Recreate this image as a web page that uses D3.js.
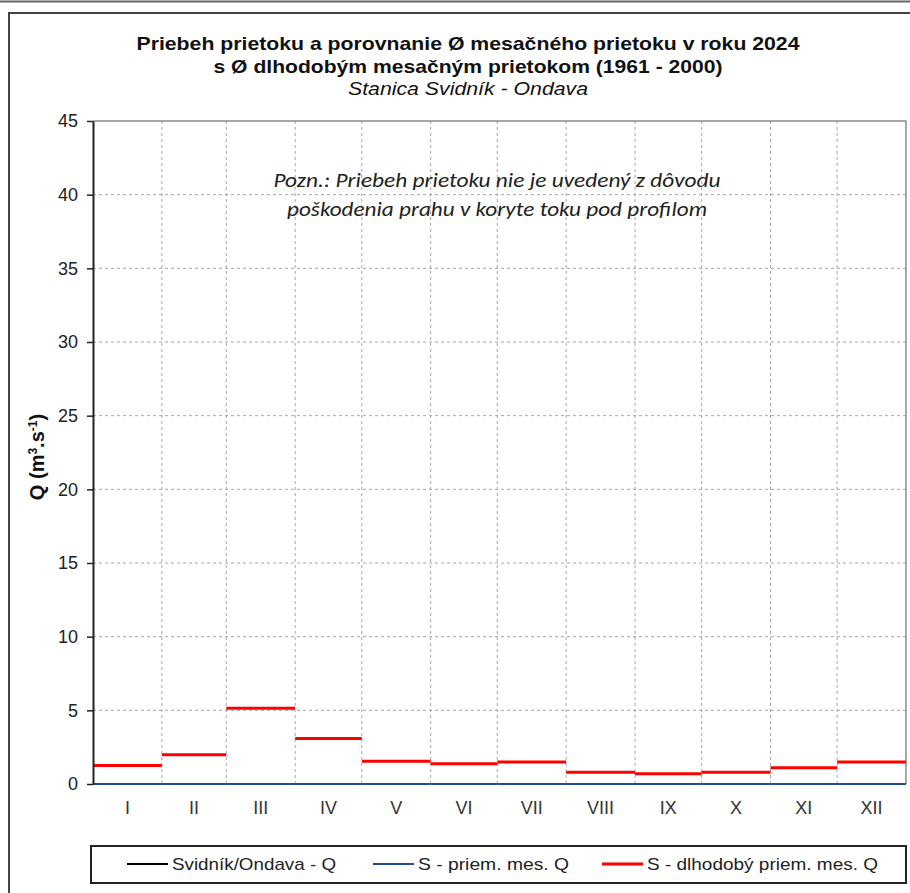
<!DOCTYPE html>
<html>
<head>
<meta charset="utf-8">
<script src="https://cdn.jsdelivr.net/npm/d3@7"></script>
<style>
  body { margin: 0; background: #fff; }
  text { font-family: "Liberation Sans", Arial, sans-serif; }
</style>
</head>
<body>
<div id="chart"></div>
<script>
// data
var months = ["I", "II", "III", "IV", "V", "VI", "VII", "VIII", "IX", "X", "XI", "XII"]
var longTermQ = [1.25, 1.98, 5.14, 3.09, 1.55, 1.37, 1.5, 0.8, 0.69, 0.8, 1.1, 1.5]
var monthlyQ2024 = [0, 0, 0, 0, 0, 0, 0, 0, 0, 0, 0, 0]
var yTicks = [0, 5, 10, 15, 20, 25, 30, 35, 40, 45]
var legendItems = [
    {label: "Svidník/Ondava - Q", color: "#000000", w: 164},
    {label: "S - priem. mes. Q", color: "#1f4e8c", w: 151},
    {label: "S - dlhodobý priem. mes. Q", color: "#ff0000", w: 231}
]

var width = 910, height = 893
var margin = {top: 121, left: 93, right: 3, bottom: 109}

var svg = d3.select("#chart").append("svg")
    .attr("width", width)
    .attr("height", height)

// outer frame
svg.append("line").attr("x1", 0).attr("x2", width).attr("y1", 1.5).attr("y2", 1.5)
    .attr("stroke", "#666").attr("stroke-width", 2)
svg.append("rect").attr("x", 9).attr("y", 13).attr("width", width + 20).attr("height", height)
    .attr("fill", "none").attr("stroke", "#444").attr("stroke-width", 2)

var x = d3.scaleTime()
    .domain([new Date(2024, 0, 1), new Date(2025, 0, 1)])
    .range([margin.left, width - margin.right - 1])
var y = d3.scaleLinear().domain([0, 45]).range([height - margin.bottom, margin.top])

var monthStarts = months.map((m, i) => new Date(2024, i, 1))
var monthEnds = months.map((m, i) => new Date(2024, i + 1, 1))

// grid
svg.append("g").selectAll("line")
    .data(yTicks.filter(d => d > 0 && d < 45))
    .enter().append("line")
    .attr("x1", margin.left).attr("x2", x.range()[1])
    .attr("y1", d => y(d)).attr("y2", d => y(d))
    .attr("stroke", "#a6a6a6").attr("stroke-dasharray", "3,3")

svg.append("g").selectAll("line")
    .data(monthStarts.slice(1))
    .enter().append("line")
    .attr("x1", d => x(d)).attr("x2", d => x(d))
    .attr("y1", y(45)).attr("y2", y(0))
    .attr("stroke", "#a6a6a6").attr("stroke-dasharray", "3,3")

// plot frame top / right
svg.append("path")
    .attr("d", `M${margin.left},${y(45)}H${x.range()[1]}V${y(0)}`)
    .attr("fill", "none").attr("stroke", "#8c8c8c").attr("stroke-width", 1.5)

// long term monthly mean (red steps)
svg.append("g").selectAll("line")
    .data(longTermQ)
    .enter().append("line")
    .attr("x1", (d, i) => x(monthStarts[i])).attr("x2", (d, i) => x(monthEnds[i]))
    .attr("y1", d => y(d)).attr("y2", d => y(d))
    .attr("stroke", "#ff0000").attr("stroke-width", 3)

// 2024 monthly mean (blue)
svg.append("g").selectAll("line")
    .data(monthlyQ2024)
    .enter().append("line")
    .attr("x1", (d, i) => x(monthStarts[i])).attr("x2", (d, i) => x(monthEnds[i]))
    .attr("y1", d => y(d)).attr("y2", d => y(d))
    .attr("stroke", "#1f4e8c").attr("stroke-width", 2)

// y axis
var yAxis = svg.append("g")
    .attr("transform", `translate(${margin.left},0)`)
    .call(d3.axisLeft(y).tickValues(yTicks).tickSize(6).tickPadding(9).tickSizeOuter(0))
yAxis.select(".domain").attr("stroke", "#222").attr("stroke-width", 2)
yAxis.selectAll(".tick line").attr("stroke", "#222").attr("stroke-width", 1.5)
yAxis.selectAll(".tick text").attr("font-size", 18).attr("fill", "#222")
    .style("font-family", "Liberation Sans, Arial, sans-serif")

// x labels
svg.append("g").selectAll("text")
    .data(months)
    .enter().append("text")
    .attr("x", (d, i) => (x(monthStarts[i]) + x(monthEnds[i])) / 2)
    .attr("y", 814)
    .attr("text-anchor", "middle")
    .attr("font-size", 18)
    .attr("fill", "#333")
    .text(d => d)

// y label
svg.append("text")
    .attr("transform", "translate(44,457) rotate(-90)")
    .attr("text-anchor", "middle")
    .attr("font-size", 20)
    .attr("font-weight", "bold")
    .attr("fill", "#111")
    .html('Q (m<tspan baseline-shift="super" font-size="12">3</tspan>.s<tspan baseline-shift="super" font-size="12">-1</tspan>)')

// titles
var titleLines = [
    {t: "Priebeh prietoku a porovnanie Ø mesačného prietoku v roku 2024", y: 50, bold: true, w: 663},
    {t: "s Ø dlhodobým mesačným prietokom (1961 - 2000)", y: 73, bold: true, w: 509},
    {t: "Stanica Svidník - Ondava", y: 95, bold: false, w: 240}
]
svg.append("g").selectAll("text")
    .data(titleLines)
    .enter().append("text")
    .attr("x", 468)
    .attr("y", d => d.y)
    .attr("text-anchor", "middle")
    .attr("font-size", 19)
    .attr("font-weight", d => d.bold ? "bold" : "normal")
    .attr("font-style", d => d.bold ? "normal" : "italic")
    .attr("fill", "#111")
    .attr("textLength", d => d.w)
    .attr("lengthAdjust", "spacingAndGlyphs")
    .text(d => d.t)

// note
var noteLines = ["Pozn.: Priebeh prietoku nie je uvedený z dôvodu", "poškodenia prahu v koryte toku pod profilom"]
var noteWidths = [447, 420]
svg.append("g").selectAll("text")
    .data(noteLines)
    .enter().append("text")
    .attr("x", 497)
    .attr("y", (d, i) => 187 + i * 29)
    .attr("text-anchor", "middle")
    .attr("font-size", 20)
    .attr("font-style", "italic")
    .attr("fill", "#222")
    .attr("textLength", (d, i) => noteWidths[i])
    .attr("lengthAdjust", "spacingAndGlyphs")
    .style("font-family", "Carlito, 'Open Sans', sans-serif")
    .text(d => d)

// legend
svg.append("rect")
    .attr("x", 91).attr("y", 846).attr("width", 815).attr("height", 37)
    .attr("fill", "#fff").attr("stroke", "#222").attr("stroke-width", 2)
var legendX = [127, 373, 602]
var lg = svg.append("g").selectAll("g")
    .data(legendItems)
    .enter().append("g")
    .attr("transform", (d, i) => `translate(${legendX[i]},864)`)
lg.append("line")
    .attr("x1", 0).attr("x2", 41)
    .attr("stroke", d => d.color).attr("stroke-width", d => d.color == "#ff0000" ? 3 : 2)
lg.append("text")
    .attr("x", 45).attr("y", 6)
    .attr("font-size", 17)
    .attr("fill", "#222")
    .attr("textLength", d => d.w)
    .attr("lengthAdjust", "spacingAndGlyphs")
    .text(d => d.label)
</script>
</body>
</html>
